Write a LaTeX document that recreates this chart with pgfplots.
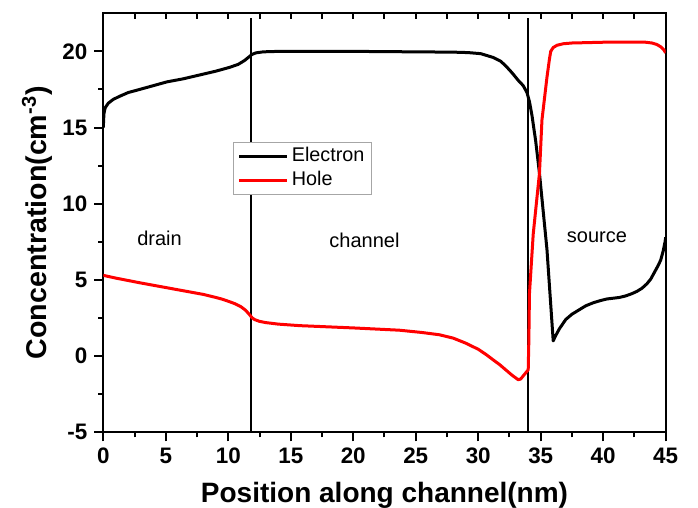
\documentclass[border=0pt]{standalone}
\usepackage{fontspec}
\setmainfont{Liberation Sans}
\usepackage{pgfplots}
\pgfplotsset{compat=1.18}
\definecolor{holered}{RGB}{255,0,0}

\begin{document}
\begin{tikzpicture}
\path[use as bounding box] (0,0) rectangle (349pt,254pt);
\begin{axis}[
    at={(51.65pt,37.85pt)}, anchor=south west,
    scale only axis, width=281.2pt, height=209.5pt,
    xmin=0, xmax=45, ymin=-5, ymax=22.5,
    xtick={0,5,...,45}, ytick={-5,0,...,20},
    minor x tick num=1, minor y tick num=1,
    xtick pos=bottom, ytick pos=left,
    tick align=outside,
    major tick length=4.5pt, minor tick length=2.5pt,
    axis line style={line width=1pt},
    every tick/.style={black, line width=1pt},
    /pgf/number format/assume math mode=true,
    ticklabel style={font=\fontsize{11.2}{13}\selectfont\bfseries},
    xlabel={Position along channel(nm)},
    ylabel={Concentration(cm\textsuperscript{-3})},
    xlabel style={font=\fontsize{14}{16}\selectfont\bfseries,
        at={(axis description cs:0.5,-0.167)}, anchor=base},
    ylabel style={font=\fontsize{14.3}{16}\selectfont\bfseries,
        at={(axis description cs:-0.1015,0.5)}, anchor=base},
    legend cell align=left,
    legend style={at={(axis description cs:0.231,0.693)}, anchor=north west,
        draw=gray!70, line width=0.6pt, inner xsep=2pt, inner ysep=1pt,
        font=\fontsize{9.9}{11.6}\selectfont,
        nodes={inner sep=1.5pt, text height=7pt, text depth=2pt}},
    legend image code/.code={\draw[#1] (0pt,0pt) -- (24pt,0pt);},
    every axis plot/.append style={line join=round},
]
% region boundaries
\addplot[black, line width=0.75pt, forget plot] coordinates {(11.83,-5) (11.83,22.2)};
\addplot[black, line width=0.75pt, forget plot] coordinates {(34.0,-5) (34.0,22.2)};

% electron concentration
\addplot[black, line width=1.5pt] coordinates {
(0,15.0) (0.05,15.9) (0.15,16.3) (0.4,16.6) (0.8,16.85) (1.3,17.05) (2,17.3)
(2.9,17.5) (4,17.75) (5.1,18.0) (6.4,18.2) (7.7,18.45) (9,18.7) (10.1,18.95)
(10.8,19.15) (11.3,19.4) (11.6,19.6) (11.9,19.8) (12.2,19.9) (12.8,19.97)
(14,20.0) (20,20.0) (28,19.95) (29.2,19.92) (30.2,19.85) (31.2,19.6)
(31.8,19.35) (32.2,19.05) (32.7,18.6) (33.2,18.1) (33.6,17.75) (33.9,17.3)
(34.1,16.7) (34.3,15.8) (34.6,14.1) (34.9,12.0) (35.5,7.0) (36.0,1.0)
(36.2,1.35) (36.5,1.8) (37.0,2.4) (37.5,2.75) (38,3.0) (38.6,3.3) (39.2,3.5)
(39.8,3.65) (40.3,3.75) (40.8,3.8) (41.3,3.85) (41.8,3.95) (42.3,4.1)
(42.7,4.25) (43.1,4.45) (43.5,4.75) (43.8,5.05) (44.1,5.5) (44.4,5.95)
(44.6,6.3) (44.8,6.9) (44.95,7.5) (45,7.8)
};
\addlegendentry{Electron}

% hole concentration
\addplot[holered, line width=1.5pt] coordinates {
(0,5.3) (1,5.12) (2,4.96) (3,4.8) (4,4.65) (5,4.5) (6,4.35) (7,4.2) (8,4.05)
(9,3.85) (9.5,3.74) (10,3.6) (10.5,3.45) (11,3.25) (11.4,3.0) (11.7,2.72)
(11.9,2.52) (12.1,2.4) (12.5,2.28) (13,2.2) (14,2.1) (15.7,2.0) (20,1.85)
(23.7,1.7) (25.5,1.55) (26.9,1.4) (28,1.18) (29,0.85) (29.5,0.65) (30,0.45)
(30.6,0.12) (31.2,-0.25) (31.7,-0.55) (32.2,-0.9) (32.7,-1.25) (33.2,-1.55)
(33.4,-1.5) (33.6,-1.3) (33.8,-1.1) (34.0,-0.9) (34.05,1.0) (34.1,4.1)
(34.4,8.0) (34.9,12.0) (35.1,15.5) (35.5,18.3) (35.7,19.5) (35.8,20.0)
(36.0,20.25) (36.3,20.4) (36.8,20.5) (37.5,20.55) (40,20.6) (43.4,20.6)
(43.9,20.55) (44.3,20.45) (44.6,20.3) (44.85,20.1) (45,19.9)
};
\addlegendentry{Hole}

\node[font=\fontsize{10}{12}\selectfont] at (axis cs:4.5,7.7) {drain};
\node[font=\fontsize{10}{12}\selectfont] at (axis cs:20.9,7.6) {channel};
\node[font=\fontsize{10}{12}\selectfont] at (axis cs:39.5,7.8) {source};
\end{axis}

% inward ticks on the top edge
\begin{axis}[
    at={(51.65pt,37.85pt)}, anchor=south west,
    scale only axis, width=281.2pt, height=209.5pt,
    xmin=0, xmax=45, ymin=-5, ymax=22.5,
    axis x line*=top, axis y line=none,
    xtick={0,5,...,45}, minor x tick num=1, xticklabels={},
    tick align=inside, major tick length=3pt, minor tick length=3pt,
    axis line style={line width=1pt},
    every tick/.style={black, line width=1pt},
]
\end{axis}
\end{tikzpicture}
\end{document}
